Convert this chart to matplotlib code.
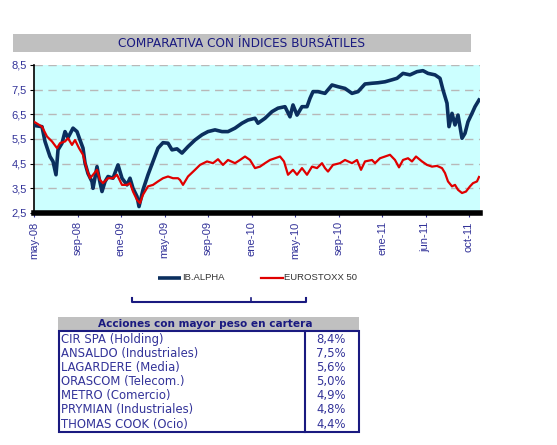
import numpy as np
import matplotlib
matplotlib.use("Agg")
import matplotlib.pyplot as plt
from matplotlib.patches import Rectangle

# eje x: posicion de sesion (0 = may-08), etiquetas cada 43.5 sesiones
etiquetas = ["may-08", "sep-08", "ene-09", "may-09", "sep-09", "ene-10",
             "may-10", "sep-10", "ene-11", "jun-11", "oct-11"]

alpha_x = [0, 8, 11, 16, 19, 22, 24, 28, 31, 34, 39, 43, 46, 49, 51, 54, 58, 59, 63, 65,
           68, 71, 74, 79, 84, 88, 93, 96, 99, 103, 105, 109, 114, 119, 124, 129, 134, 138,
           143, 148, 154, 161, 168, 174, 181, 188, 194, 201, 208, 214, 221, 224, 231, 238,
           244, 251, 256, 259, 263, 268, 273, 276, 279, 284, 291, 298, 304, 311, 318, 324,
           331, 338, 344, 351, 358, 363, 369, 376, 383, 389, 394, 401, 406, 409, 413, 415,
           418, 421, 424, 428, 431, 434, 438, 441, 445]
alpha_y = [6.05, 6.0, 5.4, 4.79, 4.59, 4.05, 5.06, 5.33, 5.8, 5.55, 5.94, 5.8, 5.46, 5.13,
           4.53, 4.1, 3.77, 3.5, 4.38, 3.93, 3.37, 3.77, 3.98, 3.91, 4.45, 3.91, 3.64, 3.91,
           3.5, 3.17, 2.76, 3.44, 4.05, 4.59, 5.13, 5.35, 5.33, 5.06, 5.1, 4.93, 5.19, 5.46,
           5.67, 5.8, 5.87, 5.8, 5.8, 5.94, 6.14, 6.27, 6.34, 6.14, 6.34, 6.61, 6.75, 6.81,
           6.4, 6.88, 6.47, 6.81, 6.81, 7.15, 7.42, 7.42, 7.35, 7.69, 7.62, 7.55, 7.35, 7.42,
           7.73, 7.76, 7.78, 7.82, 7.9, 7.96, 8.16, 8.1, 8.23, 8.27, 8.16, 8.1, 7.96, 7.49,
           6.95, 6.0, 6.54, 6.07, 6.47, 5.53, 5.73, 6.2, 6.54, 6.81, 7.08]

euro_x = [0, 8, 13, 18, 23, 26, 31, 34, 38, 41, 45, 49, 53, 56, 59, 63, 66, 69, 74, 79,
          83, 88, 93, 96, 99, 103, 106, 109, 114, 119, 124, 129, 134, 139, 144, 146, 149,
          154, 161, 166, 173, 179, 184, 189, 194, 201, 206, 211, 216, 221, 226, 231, 236,
          241, 246, 250, 254, 259, 263, 268, 273, 278, 283, 288, 291, 294, 299, 306, 311,
          318, 323, 327, 331, 338, 341, 346, 351, 356, 361, 365, 369, 374, 378, 382, 388,
          393, 398, 403, 408, 411, 414, 418, 421, 424, 428, 432, 436, 439, 443, 445]
euro_y = [6.2, 6.0, 5.6, 5.4, 5.13, 5.33, 5.4, 5.53, 5.26, 5.46, 5.13, 4.86, 4.25, 3.91,
          4.05, 4.25, 3.84, 3.71, 3.91, 3.91, 4.05, 3.64, 3.64, 3.71, 3.37, 3.03, 2.9, 3.24,
          3.58, 3.64, 3.78, 3.91, 3.98, 3.91, 3.91, 3.84, 3.64, 3.98, 4.25, 4.45, 4.59, 4.52,
          4.68, 4.45, 4.65, 4.52, 4.65, 4.79, 4.65, 4.32, 4.38, 4.52, 4.65, 4.72, 4.79, 4.59,
          4.05, 4.25, 4.05, 4.32, 4.05, 4.38, 4.32, 4.52, 4.32, 4.18, 4.45, 4.52, 4.65, 4.52,
          4.65, 4.25, 4.59, 4.65, 4.52, 4.72, 4.79, 4.86, 4.65, 4.35, 4.65, 4.72, 4.59, 4.79,
          4.59, 4.45, 4.38, 4.41, 4.32, 4.12, 3.78, 3.58, 3.64, 3.44, 3.31, 3.37, 3.58, 3.71,
          3.78, 3.96]

acciones = ["CIR SPA (Holding)", "ANSALDO (Industriales)", "LAGARDERE (Media)",
            "ORASCOM (Telecom.)", "METRO (Comercio)", "PRYMIAN (Industriales)",
            "THOMAS COOK (Ocio)"]
pesos = ["8,4%", "7,5%", "5,6%", "5,0%", "4,9%", "4,8%", "4,4%"]

azul = "#0B2F5E"
rojo = "#E00000"
texto = "#333399"

W, H = 557, 445
fig = plt.figure(figsize=(W / 100, H / 100), dpi=100)

# capa en pixeles para titulo, leyenda y tabla
bg = fig.add_axes([0, 0, 1, 1])
bg.set_xlim(0, W)
bg.set_ylim(H, 0)
bg.axis("off")

bg.add_patch(Rectangle((13, 34), 458, 18, color="#C0C0C0", lw=0))
bg.text(242, 43.5, "COMPARATIVA CON ÍNDICES BURSÁTILES", ha="center", va="center",
        fontsize=8.7, color="#1A1A80", family="DejaVu Sans")

# grafico
ax = fig.add_axes([34 / W, 1 - 213 / H, 446 / W, 148 / H])
ax.set_facecolor("#CCFFFF")
x_ticks = np.arange(len(etiquetas)) * 43.5
for v in np.arange(3.5, 8.6, 1.0):
    ax.axhline(v, color="#B8B8B8", lw=1.0, ls=(0, (6, 4)), zorder=1)
ax.plot(alpha_x, alpha_y, color=azul, lw=2.6, zorder=3)
ax.plot(euro_x, euro_y, color=rojo, lw=1.6, zorder=3)
ax.set_xlim(0, 446)
ax.set_ylim(2.5, 8.5)
ax.set_yticks(np.arange(2.5, 8.6, 1.0))
ax.set_yticklabels([f"{v:.1f}".replace(".", ",") for v in np.arange(2.5, 8.6, 1.0)])
ax.set_xticks(x_ticks)
ax.set_xticklabels(etiquetas, rotation=90)
ax.tick_params(axis="y", length=3, color="black", labelsize=8, labelcolor=texto, pad=2)
ax.tick_params(axis="x", length=3, color=texto, labelsize=8, labelcolor=texto, pad=3)
for lab in ax.get_xticklabels() + ax.get_yticklabels():
    lab.set_family("Liberation Sans")
for s in ["top", "right"]:
    ax.spines[s].set_visible(False)
ax.spines["left"].set_linewidth(1.2)
ax.spines["bottom"].set_linewidth(4)
ax.spines["bottom"].set_color("black")

# leyenda
bg.plot([158, 181], [278, 278], color=azul, lw=2.6, solid_capstyle="butt")
bg.text(182, 278, "IB.ALPHA", ha="left", va="center", fontsize=6.8, color="#333333",
        family="Liberation Sans")
bg.plot([261, 283], [278, 278], color=rojo, lw=1.6)
bg.text(284, 278, "EUROSTOXX 50", ha="left", va="center", fontsize=6.8, color="#333333",
        family="Liberation Sans")

# corchete bajo la leyenda
bg.plot([132, 132, 306, 306], [298, 301.5, 301.5, 298], color="#1A1A80", lw=1.5)
bg.plot([251, 251], [298, 301.5], color="#1A1A80", lw=1.2)

# tabla
bg.add_patch(Rectangle((58, 317), 301, 13.5, color="#C0C0C0", lw=0))
bg.text(205, 324, "Acciones con mayor peso en cartera", ha="center", va="center",
        fontsize=7.6, fontweight="bold", color="#1A1A80", family="DejaVu Sans")
bg.add_patch(Rectangle((58.5, 331), 300, 100.5, fill=False, ec="#1A1A80", lw=1.5))
bg.plot([305, 305], [331, 431.5], color="#1A1A80", lw=1.5)
fila = 14.1
for i, (a, p) in enumerate(zip(acciones, pesos)):
    yc = 339.5 + i * fila
    bg.text(61, yc, a, ha="left", va="center", fontsize=8.4, color=texto,
            family="DejaVu Sans")
    bg.text(346, yc, p, ha="right", va="center", fontsize=8.4, color=texto,
            family="DejaVu Sans")

fig.savefig("out.png", dpi=100)
